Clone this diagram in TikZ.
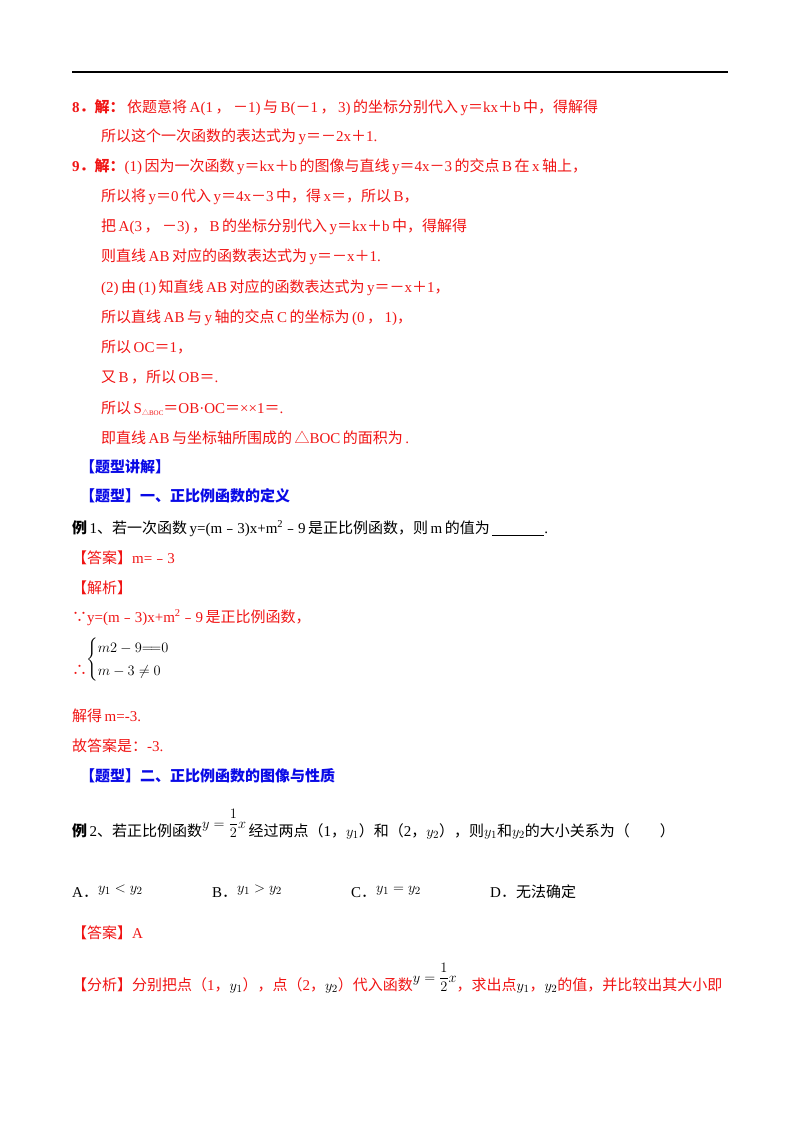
\documentclass[tikz,border=0pt]{standalone}
\usepackage{fontspec}
\usepackage{amsmath}
\setmainfont{Liberation Serif}
\newfontfamily\cjk{Noto Sans CJK SC}
\newcommand{\zh}[1]{\,{\cjk #1}\,}
\newcommand{\EQ}{{\cjk ＝}}
\newcommand{\MI}{{\cjk －}}
\newcommand{\PL}{{\cjk ＋}}
\newcommand{\SM}{{\cjk ﹣}}
\definecolor{ared}{RGB}{240,20,20}
\definecolor{ablue}{RGB}{10,10,230}
\begin{document}
\begin{tikzpicture}[x=1pt,y=-1pt,
  t/.style={anchor=base west,inner sep=0pt,font=\fontsize{15}{17}\selectfont},
  r/.style={t,text=ared},
  b/.style={t,text=ablue,font=\fontsize{15}{17}\selectfont\bfseries}]
\useasboundingbox (0,0) rectangle (800,1132);
\draw[line width=2pt] (72,72) coordinate (l1) -- (728,72) coordinate (l2);
\node[r] (n8) at (72,112) {\textbf{8{\cjk ．解：}}\zh{依题意将}A(1\zh{，}\MI1)\zh{与}B(\MI1\zh{，}3)\zh{的坐标分别代入}y\EQ kx\PL b\zh{中，得解得}};
\node[r] (n8b) at (101,141) {{\cjk 所以这个一次函数的表达式为}\,y\EQ\MI2x\PL1.};
\node[r] (n9) at (72,171) {\textbf{9{\cjk ．解：}}(1)\zh{因为一次函数}y\EQ kx\PL b\zh{的图像与直线}y\EQ4x\MI3\zh{的交点}B\zh{在}x\zh{轴上，}};
\node[r] (n9a) at (101,201) {{\cjk 所以将}\,y\EQ0\zh{代入}y\EQ4x\MI3\zh{中，得}x\EQ{\cjk ，所以}\,B{\cjk ，}};
\node[r] (n9b) at (101,231) {{\cjk 把}\,A(3\zh{，}\MI3)\zh{，}B\zh{的坐标分别代入}y\EQ kx\PL b\zh{中，得解得}};
\node[r] (n9c) at (101,261) {{\cjk 则直线}\,AB\zh{对应的函数表达式为}y\EQ\MI x\PL1.};
\node[r] (n9d) at (101,292) {(2)\zh{由}(1)\zh{知直线}AB\zh{对应的函数表达式为}y\EQ\MI x\PL1{\cjk ，}};
\node[r] (n9e) at (101,322) {{\cjk 所以直线}\,AB\zh{与}y\zh{轴的交点}C\zh{的坐标为}(0\zh{，}1){\cjk ，}};
\node[r] (n9f) at (101,352) {{\cjk 所以}\,OC\EQ1{\cjk ，}};
\node[r] (n9g) at (101,382) {{\cjk 又}\,B\zh{，所以}OB\EQ.};
\node[r] (n9h) at (101,413) {{\cjk 所以}\,S\raisebox{-0.3ex}{\fontsize{7}{8}\selectfont{\cjk △}BOC}\EQ OB·OC\EQ××1\EQ.};
\node[r] (n9i) at (101,443) {{\cjk 即直线}\,AB\zh{与坐标轴所围成的}{\cjk △}BOC\zh{的面积为}.};
\node[b] (h1) at (80,472) {{\cjk 【题型讲解】}};
\node[b] (h2) at (80,501) {{\cjk 【题型】一、正比例函数的定义}};
\node[t] (e1) at (72,533) {{\cjk\bfseries 例}\,1{\cjk 、若一次函数}\,y=(m\SM3)x+m\textsuperscript{2}\SM9\zh{是正比例函数，则}m\zh{的值为}\underline{\hspace{52pt}}.};
\node[r] (a1) at (72,563) {{\cjk 【答案】}m=\SM3};
\node[r] (j1) at (72,593) {{\cjk 【解析】}};
\node[r] (j2) at (72,622) {{\cjk ∵}y=(m\SM3)x+m\textsuperscript{2}\SM9\zh{是正比例函数，}};
\node[r] (th) at (72,675) {{\cjk ∴}};
\node[t,anchor=west] (sys) at (86,660) {$\begin{cases} m2-9{=}\!{=}0\\[2pt] m-3\neq 0\end{cases}$};
\node[r] (s1) at (72,721) {{\cjk 解得}\,m=-3.};
\node[r] (s2) at (72,751) {{\cjk 故答案是：}-3.};
\node[b] (h3) at (80,781) {{\cjk 【题型】二、正比例函数的图像与性质}};
\node[t] (e2) at (72,836) {{\cjk\bfseries 例}\,2{\cjk 、若正比例函数}\raisebox{8pt}{$y=\dfrac{1}{2}x$}\,{\cjk 经过两点（}1{\cjk ，}$y_1${\cjk ）和（}2{\cjk ，}$y_2${\cjk ），则}$y_1${\cjk 和}$y_2${\cjk 的大小关系为（\quad\quad）}};
\node[t] (oa) at (72,897) {A{\cjk ．}\raisebox{5pt}{$y_1<y_2$}};
\node[t] (ob) at (212,897) {B{\cjk ．}\raisebox{5pt}{$y_1>y_2$}};
\node[t] (oc) at (351,897) {C{\cjk ．}\raisebox{5pt}{$y_1=y_2$}};
\node[t] (od) at (490,897) {D{\cjk ．无法确定}};
\node[r] (a2) at (72,938) {{\cjk 【答案】}A};
\node[r] (f2) at (72,990) {{\cjk 【分析】分别把点（}1{\cjk ，}\textcolor{black}{$y_1$}{\cjk ），点（}2{\cjk ，}\textcolor{black}{$y_2$}{\cjk ）代入函数}\textcolor{black}{\raisebox{8pt}{$y=\dfrac{1}{2}x$}}{\cjk ，求出点}\textcolor{black}{$y_1$}{\cjk ，}\textcolor{black}{$y_2$}{\cjk 的值，并比较出其大小即}};
\end{tikzpicture}
\end{document}
